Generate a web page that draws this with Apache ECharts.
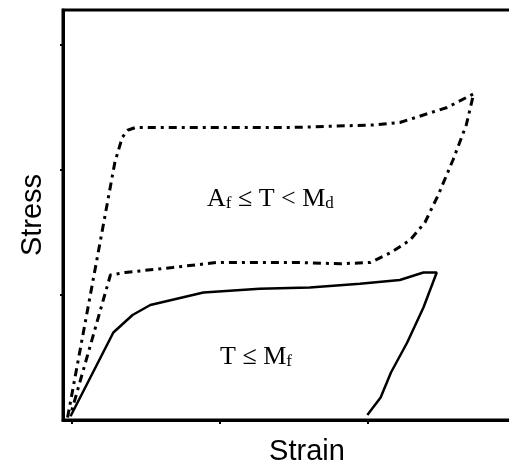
<!DOCTYPE html>
<html>
<head>
<meta charset="utf-8">
<script src="https://cdn.jsdelivr.net/npm/echarts@6/dist/echarts.min.js"></script>
<style>
html,body{margin:0;padding:0;background:#fff;}
#c{width:509px;height:468px;}
</style>
</head>
<body>
<div id="c"></div>
<script>
// Curve below Mf (solid): strain / stress
var strainMf = [-0.01, 0.28, 0.41, 0.53, 0.89, 1.27, 1.61, 1.95, 2.22, 2.38, 2.47, 2.38, 2.27, 2.16, 2.09, 2.00];
var stressMf = [0.03, 0.70, 0.84, 0.92, 1.02, 1.05, 1.06, 1.09, 1.12, 1.18, 1.18, 0.90, 0.62, 0.38, 0.18, 0.04];
// Superelastic loop Af <= T < Md (dash-dot)
var strainAf = [-0.03, 0.19, 0.29, 0.34, 0.38, 0.43, 0.94, 1.48, 2.04, 2.22, 2.38, 2.54, 2.72, 2.67, 2.58, 2.48, 2.39, 2.29, 2.16, 2.02, 1.82, 1.55, 1.27, 0.98, 0.68, 0.36, 0.26, -0.01];
var stressAf = [0.02, 1.42, 2.06, 2.26, 2.32, 2.34, 2.34, 2.34, 2.36, 2.38, 2.44, 2.50, 2.61, 2.36, 2.08, 1.80, 1.58, 1.44, 1.34, 1.26, 1.25, 1.26, 1.26, 1.26, 1.22, 1.18, 1.16, 0.04];
var xTicks = [0, 1, 2];
var yTicks = [1, 2, 3];
var xTitle = 'Strain';
var yTitle = 'Stress';

function pairs(xs, ys){ return xs.map(function(x,i){ return [x, ys[i]]; }); }

var serif = '"Liberation Serif", "Times New Roman", serif';
var richStyles = {
  m:{fontFamily:serif, fontSize:26, lineHeight:32, verticalAlign:'bottom'},
  s:{fontFamily:serif, fontSize:17, lineHeight:15, verticalAlign:'bottom'}
};

var chart = echarts.init(document.getElementById('c'), null, {renderer:'canvas'});
chart.setOption({
  animation:false,
  backgroundColor:'#fff',
  grid:{left:63, top:10, right:-6, bottom:48, containLabel:false, outerBoundsMode:'none',
    show:true, borderColor:'#000', borderWidth:3, backgroundColor:'transparent'},
  xAxis:{type:'value', min:-0.061, max:3.0,
    axisLine:{show:true, onZero:false, lineStyle:{color:'#000', width:3}},
    axisTick:{show:true, length:4, lineStyle:{color:'#000', width:2}, customValues:xTicks},
    axisLabel:{show:false}, splitLine:{show:false}},
  yAxis:{type:'value', min:0, max:3.28,
    axisLine:{show:true, onZero:false, lineStyle:{color:'#000', width:3}},
    axisTick:{show:true, length:3, lineStyle:{color:'#000', width:2}, customValues:yTicks},
    axisLabel:{show:false}, splitLine:{show:false}},
  series:[
    {type:'line', data:pairs(strainAf, stressAf), symbol:'none', smooth:false,
      lineStyle:{color:'#000', width:3, type:[8,5,3,5]}},
    {type:'line', data:pairs(strainMf, stressMf), symbol:'none', smooth:false,
      lineStyle:{color:'#000', width:2.5}}
  ],
  graphic:[
    {type:'text', x:307, y:452, style:{text:xTitle, font:'29px "Liberation Sans", Arial, sans-serif', fill:'#000', align:'center', verticalAlign:'middle'}},
    {type:'text', x:33, y:215, rotation:Math.PI/2, style:{text:yTitle, font:'29px "Liberation Sans", Arial, sans-serif', fill:'#000', align:'center', verticalAlign:'middle'}},
    {type:'text', x:207, y:180, style:{text:'{m|A}{s|f}{m| \u2264 T < M}{s|d}', fill:'#000', align:'left', verticalAlign:'top', rich:richStyles}},
    {type:'text', x:220, y:338, style:{text:'{m|T \u2264 M}{s|f}', fill:'#000', align:'left', verticalAlign:'top', rich:richStyles}}
  ]
});
</script>
</body>
</html>
